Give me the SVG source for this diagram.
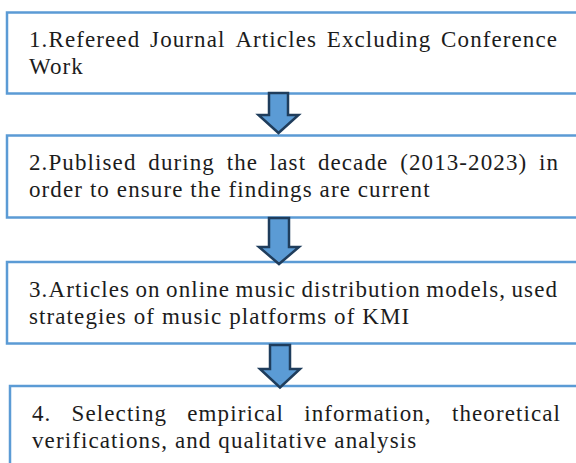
<svg xmlns="http://www.w3.org/2000/svg" width="576" height="463" viewBox="0 0 576 463">
<style>
.box{fill:#ffffff;stroke:#5b9bd5;stroke-width:2.5}
.arrow{fill:#5b9bd5;stroke:#1f3d5c;stroke-width:2.5;stroke-linejoin:miter}
.t{font-family:'Liberation Serif','Times New Roman',serif;font-size:23px;fill:#1c1c1c;letter-spacing:1.1px}
</style>
<rect width="576" height="463" fill="#ffffff"/>
<g id="node1">
<rect class="box" x="7" y="12.5" width="590" height="81"/>
<text class="t" y="47"><tspan x="29">1.Refereed</tspan><tspan x="150.1">Journal</tspan><tspan x="235.4">Articles</tspan><tspan x="326.8">Excluding</tspan><tspan x="441.1">Conference</tspan></text>
<text class="t" x="29" y="74">Work</text>
</g>
<g id="node2">
<rect class="box" x="7" y="135.5" width="590" height="82"/>
<text class="t" y="170"><tspan x="29">2.Publised</tspan><tspan x="148.3">during</tspan><tspan x="226.7">the</tspan><tspan x="269.8">last</tspan><tspan x="317.9">decade</tspan><tspan x="400.2">(2013-2023)</tspan><tspan x="539">in</tspan></text>
<text class="t" x="29" y="197">order to ensure the findings are current</text>
</g>
<g id="node3">
<rect class="box" x="7" y="262" width="590" height="81.5"/>
<text class="t" y="297"><tspan x="29">3.Articles</tspan><tspan x="135.5">on</tspan><tspan x="166.1">online</tspan><tspan x="235.6">music</tspan><tspan x="301.5">distribution</tspan><tspan x="426.2">models,</tspan><tspan x="511.5">used</tspan></text>
<text class="t" x="29" y="324">strategies of music platforms of KMI</text>
</g>
<g id="node4">
<rect class="box" x="10" y="386" width="590" height="100"/>
<text class="t" y="421"><tspan x="32">4.</tspan><tspan x="71.6">Selecting</tspan><tspan x="187.3">empirical</tspan><tspan x="304.2">information,</tspan><tspan x="451.9">theoretical</tspan></text>
<text class="t" x="32" y="448">verifications, and qualitative analysis</text>
</g>
<g id="connectors">
<polygon class="arrow" points="269,93 288,93 288,115 298.5,115 278.5,133 258.5,115 269,115"/>
<polygon class="arrow" points="269,218 289,218 289,247 299,247 279,264 259,247 269,247"/>
<polygon class="arrow" points="270,345 290,345 290,369 300,369 280,387.5 260,369 270,369"/>
</g>
</svg>
